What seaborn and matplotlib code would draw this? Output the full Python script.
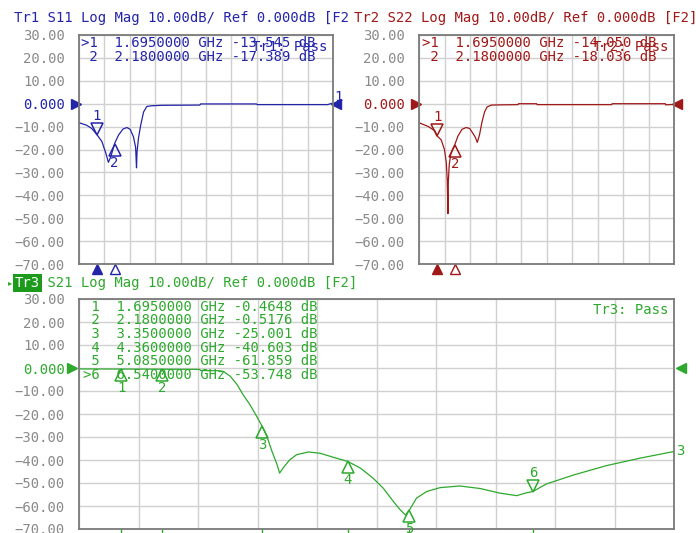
import numpy as np
import matplotlib
matplotlib.use("Agg")
import matplotlib.pyplot as plt
import seaborn as sns
from matplotlib.transforms import Bbox, TransformedBbox, offset_copy

# sweep and scale (GHz / dB)
f_start, f_stop = 1.2, 8.2
db_top, db_bottom = 30, -70

y_ticks = [30, 20, 10, 0, -10, -20, -30, -40, -50, -60, -70]
y_tick_labels = ["30.00", "20.00", "10.00", "0.000", "−10.00", "−20.00",
                 "−30.00", "−40.00", "−50.00", "−60.00", "−70.00"]

# Tr1 S11
s11_freq = [1.20, 1.41, 1.55, 1.695, 1.83, 1.94, 2.01, 2.08, 2.18, 2.29, 2.41,
            2.52, 2.61, 2.70, 2.76, 2.785, 2.80, 2.84, 2.90, 2.98, 3.07, 3.21,
            3.48, 4.53, 4.55, 6.09, 6.11, 8.05, 8.20]
s11_db = [-8.3, -9.4, -10.8, -13.5, -16.5, -21.6, -25.6, -23.0, -17.4, -13.7, -11.1,
          -10.4, -11.2, -14.4, -19.0, -28.0, -21.0, -15.0, -9.4, -3.6, -1.2, -0.9,
          -0.7, -0.6, -0.1, -0.1, -0.4, -0.4, 0.3]

# Tr2 S22
s22_freq = [1.20, 1.46, 1.64, 1.695, 1.81, 1.90, 1.95, 1.975, 1.995, 2.005, 2.03,
            2.07, 2.12, 2.18, 2.27, 2.38, 2.49, 2.59, 2.67, 2.75, 2.80, 2.86, 2.93,
            3.00, 3.07, 3.19, 3.48, 3.92, 3.93, 4.43, 4.44, 6.49, 6.50, 7.96, 7.97,
            8.20]
s22_db = [-8.3, -10.0, -11.9, -14.05, -15.8, -20.1, -25.9, -33.4, -48.0, -34.0, -26.6,
          -22.3, -20.0, -18.0, -14.1, -11.2, -10.4, -10.8, -12.7, -14.8, -16.9, -13.7,
          -7.9, -3.6, -1.4, -0.6, -0.5, -0.4, 0.0, 0.0, -0.4, -0.4, 0.0, 0.0, -0.5,
          -0.3]

# Tr3 S21
s21_freq = [1.20, 1.695, 2.18, 2.62, 2.63, 2.85, 2.90, 2.98, 3.06, 3.13, 3.21, 3.29,
            3.35, 3.41, 3.47, 3.53, 3.56, 3.60, 3.68, 3.76, 3.90, 4.04, 4.19, 4.36,
            4.51, 4.66, 4.78, 4.90, 4.98, 5.04, 5.085, 5.17, 5.29, 5.45, 5.68, 5.92,
            6.15, 6.35, 6.47, 6.54, 6.70, 7.02, 7.41, 7.80, 8.20]
s21_db = [-0.4, -0.46, -0.52, -0.6, -1.1, -1.2, -1.5, -3.6, -7.2, -11.6, -15.9, -21.0,
          -25.0, -29.7, -36.2, -42.0, -45.7, -43.5, -39.9, -37.7, -36.5, -37.1, -38.8,
          -40.6, -43.5, -47.9, -52.3, -58.1, -61.7, -63.9, -61.9, -56.6, -53.7, -52.0,
          -51.3, -52.4, -54.4, -55.5, -54.2, -53.7, -50.4, -46.5, -42.4, -39.2, -36.3]

# marker readouts
top_marker_freq = [1.695, 2.18]
s11_marker_db = [-13.545, -17.389]
s22_marker_db = [-14.050, -18.036]
s21_marker_freq = [1.695, 2.18, 3.35, 4.36, 5.085, 6.54]
s21_marker_db = [-0.4648, -0.5176, -25.001, -40.603, -61.859, -53.748]

BLUE = "#2424a8"
RED = "#a01818"
GREEN = "#2ea82e"
GRAY = "#8a8a8a"

sns.set_style("white")
plt.rcParams["font.family"] = ["DejaVu Sans Mono", "DejaVu Sans"]
plt.rcParams["font.size"] = 10

W, H = 696, 533
fig = plt.figure(figsize=(W / 100, H / 100), dpi=100)


def px(x, y):
    return x / W, 1 - y / H


def box(x0, y0, x1, y1):
    return [x0 / W, 1 - y1 / H, (x1 - x0) / W, (y1 - y0) / H]


ax1 = fig.add_axes(box(79, 35, 333, 264))
ax2 = fig.add_axes(box(419, 35, 674, 264))
ax3 = fig.add_axes(box(79, 299, 674, 529))


def fmt_db(v):
    return f"{v:.4f}" if abs(v) < 10 else f"{v:.3f}"


def setup(ax, color):
    ax.set_xlim(f_start, f_stop)
    ax.set_ylim(db_bottom, db_top)
    ax.set_xticks(np.linspace(f_start, f_stop, 11))
    ax.set_xticklabels([])
    ax.set_yticks(y_ticks)
    ax.set_yticklabels(y_tick_labels)
    ax.tick_params(length=0, pad=10, labelsize=10, labelcolor=GRAY)
    for lab, v in zip(ax.get_yticklabels(), y_ticks):
        if v == 0:
            lab.set_color(color)
    ax.grid(True, color="#d0d0d0", linewidth=1)
    for s in ax.spines.values():
        s.set_color("#7a7a7a")
        s.set_linewidth(1.3)
    # reference level arrows
    yt = ax.get_yaxis_transform()
    ax.plot([-0.012], [0], marker=">", ms=7, color=color, transform=yt, clip_on=False)
    ax.plot([1.012], [0], marker="<", ms=7, color=color, transform=yt, clip_on=False)


def draw_markers(ax, freqs, dbs, active, color):
    for i, (f, d) in enumerate(zip(freqs, dbs), start=1):
        up = i == active
        sgn = 1 if up else -1
        tr_m = offset_copy(ax.transData, fig=fig, x=0, y=sgn * 6, units="dots")
        tr_t = offset_copy(ax.transData, fig=fig, x=0, y=sgn * 19, units="dots")
        ax.plot([f], [d], marker="v" if up else "^", ms=9, mfc="none", mec=color,
                mew=1.1, transform=tr_m, clip_on=False)
        ax.text(f, d, str(i), transform=tr_t, ha="center", va="center",
                color=color, fontsize=10)


def readout(x, y0, step, freqs, dbs, active, color):
    for k, (f, d) in enumerate(zip(freqs, dbs)):
        n = k + 1
        lead = ">" if n == active else " "
        line = f"{lead}{n}  {f:.7f} GHz {fmt_db(d)} dB"
        fig.text(*px(x, y0 + k * step), line, color=color, fontsize=10, va="center")


# --- Tr1 S11
setup(ax1, BLUE)
sns.lineplot(x=s11_freq, y=s11_db, ax=ax1, color=BLUE, linewidth=0.9, sort=False)
draw_markers(ax1, top_marker_freq, s11_marker_db, 1, BLUE)
xt = ax1.get_xaxis_transform()
ax1.plot([top_marker_freq[0]], [-0.02], marker="^", ms=7, color=BLUE, transform=xt, clip_on=False)
ax1.plot([top_marker_freq[1]], [-0.02], marker="^", ms=7, mfc="white", mec=BLUE, transform=xt, clip_on=False)
ax1.text(1.005, 3, "1", transform=ax1.get_yaxis_transform(), color=BLUE, va="center")

# --- Tr2 S22
setup(ax2, RED)
sns.lineplot(x=s22_freq, y=s22_db, ax=ax2, color=RED, linewidth=0.9, sort=False)
draw_markers(ax2, top_marker_freq, s22_marker_db, 1, RED)
xt = ax2.get_xaxis_transform()
ax2.plot([top_marker_freq[0]], [-0.02], marker="^", ms=7, color=RED, transform=xt, clip_on=False)
ax2.plot([top_marker_freq[1]], [-0.02], marker="^", ms=7, mfc="white", mec=RED, transform=xt, clip_on=False)

# --- Tr3 S21
setup(ax3, GREEN)
sns.lineplot(x=s21_freq, y=s21_db, ax=ax3, color=GREEN, linewidth=0.9, sort=False)
draw_markers(ax3, s21_marker_freq, s21_marker_db, 6, GREEN)
xt = ax3.get_xaxis_transform()
for f in s21_marker_freq:
    ax3.plot([f], [-0.012], marker="|", ms=4, color=GREEN, transform=xt, clip_on=False)
ax3.text(1.004, s21_db[-1], "3", transform=ax3.get_yaxis_transform(), color=GREEN, va="center")

# titles
t1 = fig.text(*px(14, 18), "Tr1 S11 Log Mag 10.00dB/ Ref 0.000dB [F2]", color=BLUE, va="center")
t1.set_clip_box(TransformedBbox(Bbox([[0, 0], [348 / W, 1]]), fig.transFigure))
t1.set_clip_on(True)
fig.text(*px(354, 18), "Tr2 S22 Log Mag 10.00dB/ Ref 0.000dB [F2]", color=RED, va="center")
fig.text(*px(8, 283), "▸", color=GREEN, fontsize=6, va="center", family="DejaVu Sans")
fig.text(*px(15, 283), "Tr3", color="white", va="center",
         bbox=dict(facecolor="#1c9a1c", edgecolor="none", pad=1.2))
fig.text(*px(39, 283), " S21 Log Mag 10.00dB/ Ref 0.000dB [F2]", color=GREEN, va="center")

# marker tables
readout(81, 43, 14, top_marker_freq, s11_marker_db, 1, BLUE)
readout(422, 43, 14, top_marker_freq, s22_marker_db, 1, RED)
readout(83, 306.7, 13.65, s21_marker_freq, s21_marker_db, 6, GREEN)

fig.text(*px(327, 47), "Tr1: Pass", color=BLUE, ha="right", va="center")
fig.text(*px(668, 47), "Tr2: Pass", color=RED, ha="right", va="center")
fig.text(*px(668, 310), "Tr3: Pass", color=GREEN, ha="right", va="center")

fig.savefig("out.png", dpi=100)
